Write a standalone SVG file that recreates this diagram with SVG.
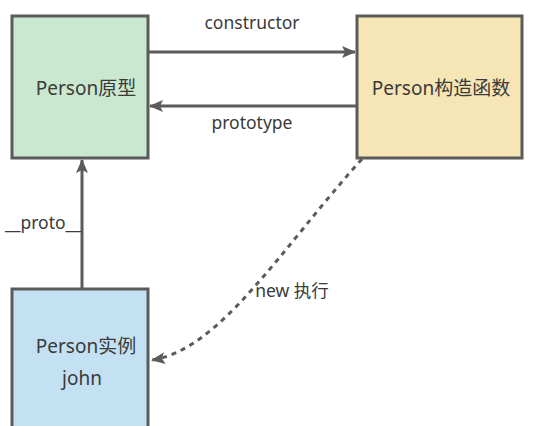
<svg xmlns="http://www.w3.org/2000/svg" width="547" height="426" viewBox="0 0 547 426">
<style>
.box{stroke:#5b5b5b;stroke-width:3}
.t{font-family:"Noto Sans","Noto Sans CJK SC",sans-serif;font-size:19px;fill:#3a3a3a;text-anchor:middle}
.l{font-family:"Noto Sans","Noto Sans CJK SC",sans-serif;font-size:17.5px;fill:#3a3a3a;text-anchor:middle}
.c{fill:none;stroke:#5b5b5b;stroke-width:3}
</style>
<defs>
<marker id="ah2" markerWidth="14" markerHeight="12" refX="13" refY="6" orient="auto" markerUnits="userSpaceOnUse">
<path d="M0,0 L14,6 L0,12 L3,6 Z" fill="#5b5b5b"/>
</marker>
</defs>
<rect width="547" height="426" fill="#ffffff"/>
<g id="proto-node">
<rect class="box" x="12" y="16" width="136" height="142" fill="#cae8cf"/>
<text class="t" x="86" y="95">Person原型</text>
</g>
<g id="ctor-node">
<rect class="box" x="357" y="16" width="165" height="142" fill="#f6e5b5"/>
<text class="t" x="441" y="95">Person构造函数</text>
</g>
<g id="inst-node">
<rect class="box" x="12" y="289" width="136" height="150" fill="#c3e1f3"/>
<text class="t" x="86" y="353">Person实例</text>
<text class="t" x="82" y="385">john</text>
</g>
<g id="connectors">
<path class="c" d="M148,52 H355" marker-end="url(#ah2)"/>
<path class="c" d="M357,106 H150" marker-end="url(#ah2)"/>
<path class="c" d="M82,289 V160" marker-end="url(#ah2)"/>
<path class="c" d="M362,159 C280,250 220,350 152,360" stroke-dasharray="5,5" marker-end="url(#ah2)"/>
<text class="l" x="252" y="29">constructor</text>
<text class="l" x="252" y="129">prototype</text>
<text class="l" x="43" y="229">__proto__</text>
<text class="l" x="292" y="297">new 执行</text>
</g>
</svg>
